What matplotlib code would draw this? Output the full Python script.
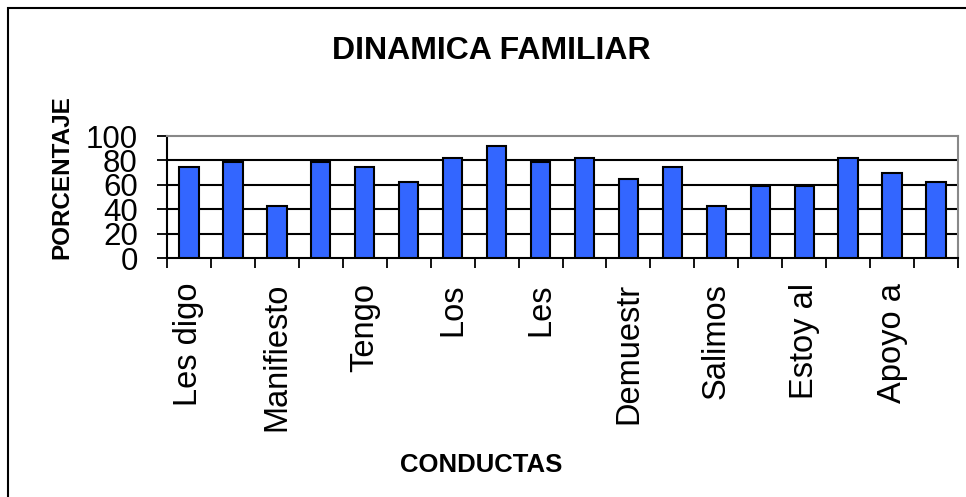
import matplotlib
matplotlib.use("Agg")
import matplotlib.pyplot as plt
from matplotlib.patches import Rectangle
import numpy as np

plt.rcParams['font.family'] = ['Liberation Sans', 'DejaVu Sans']

title = "DINAMICA FAMILIAR"
x_title = "CONDUCTAS"
y_title = "PORCENTAJE"
values = [75, 79, 43, 79, 75, 62, 82, 92, 79, 82, 65, 75, 43, 59, 59, 82, 70, 62]
shown_labels = ["Les digo", "Manifiesto", "Tengo", "Los", "Les",
                "Demuestr", "Salimos", "Estoy al", "Apoyo a"]
y_ticks = [0, 20, 40, 60, 80, 100]

W, H = 966, 497
fig = plt.figure(figsize=(W / 100, H / 100), dpi=100)
fig.patch.set_facecolor("white")

# outer chart border (left and top visible)
fig.add_artist(Rectangle((8 / W, -0.1), 1.2, (H - 8) / H + 0.1, transform=fig.transFigure,
                         fill=False, edgecolor="black", linewidth=1.5))

ax = fig.add_axes([167 / W, 1 - 258 / H, (958 - 167) / W, (258 - 136) / H])
n = len(values)
x = np.arange(n)
ax.bar(x, values, width=0.44, color="#3366FF", edgecolor="black", linewidth=1.5, zorder=3)

ax.set_xlim(-0.5, n - 0.5)
ax.set_ylim(0, 100)
ax.set_yticks(y_ticks)
ax.set_yticklabels([str(v) for v in y_ticks], fontsize=22.5)
for v in y_ticks[1:-1]:
    ax.axhline(v, color="black", linewidth=1.5, zorder=1)

ax.set_xticks(x[::2])
ax.set_xticklabels(shown_labels, rotation=90, fontsize=23.5, va="top", ha="center")
ax.set_xticks(np.arange(n + 1) - 0.5, minor=True)
ax.tick_params(axis="x", which="major", length=0, pad=18)
ax.tick_params(axis="x", which="minor", length=7, width=1.3, direction="out", color="black")
ax.tick_params(axis="y", which="major", length=14, width=1.3, direction="inout", pad=14)

for s in ["left", "bottom"]:
    ax.spines[s].set_color("black")
    ax.spines[s].set_linewidth(1.5)
for s in ["top", "right"]:
    ax.spines[s].set_color("#888888")
    ax.spines[s].set_linewidth(1.5)

fig.text(491 / W, 1 - 51 / H, title, fontsize=23, fontweight="bold", ha="center", va="center")
fig.text(481 / W, 1 - 465 / H, x_title, fontsize=18.5, fontweight="bold", ha="center", va="center")
fig.text(62 / W, 1 - 177 / H, y_title, fontsize=17.5, fontweight="bold", ha="center", va="center",
         rotation=90)

fig.savefig("out.png", dpi=100, facecolor="white")
